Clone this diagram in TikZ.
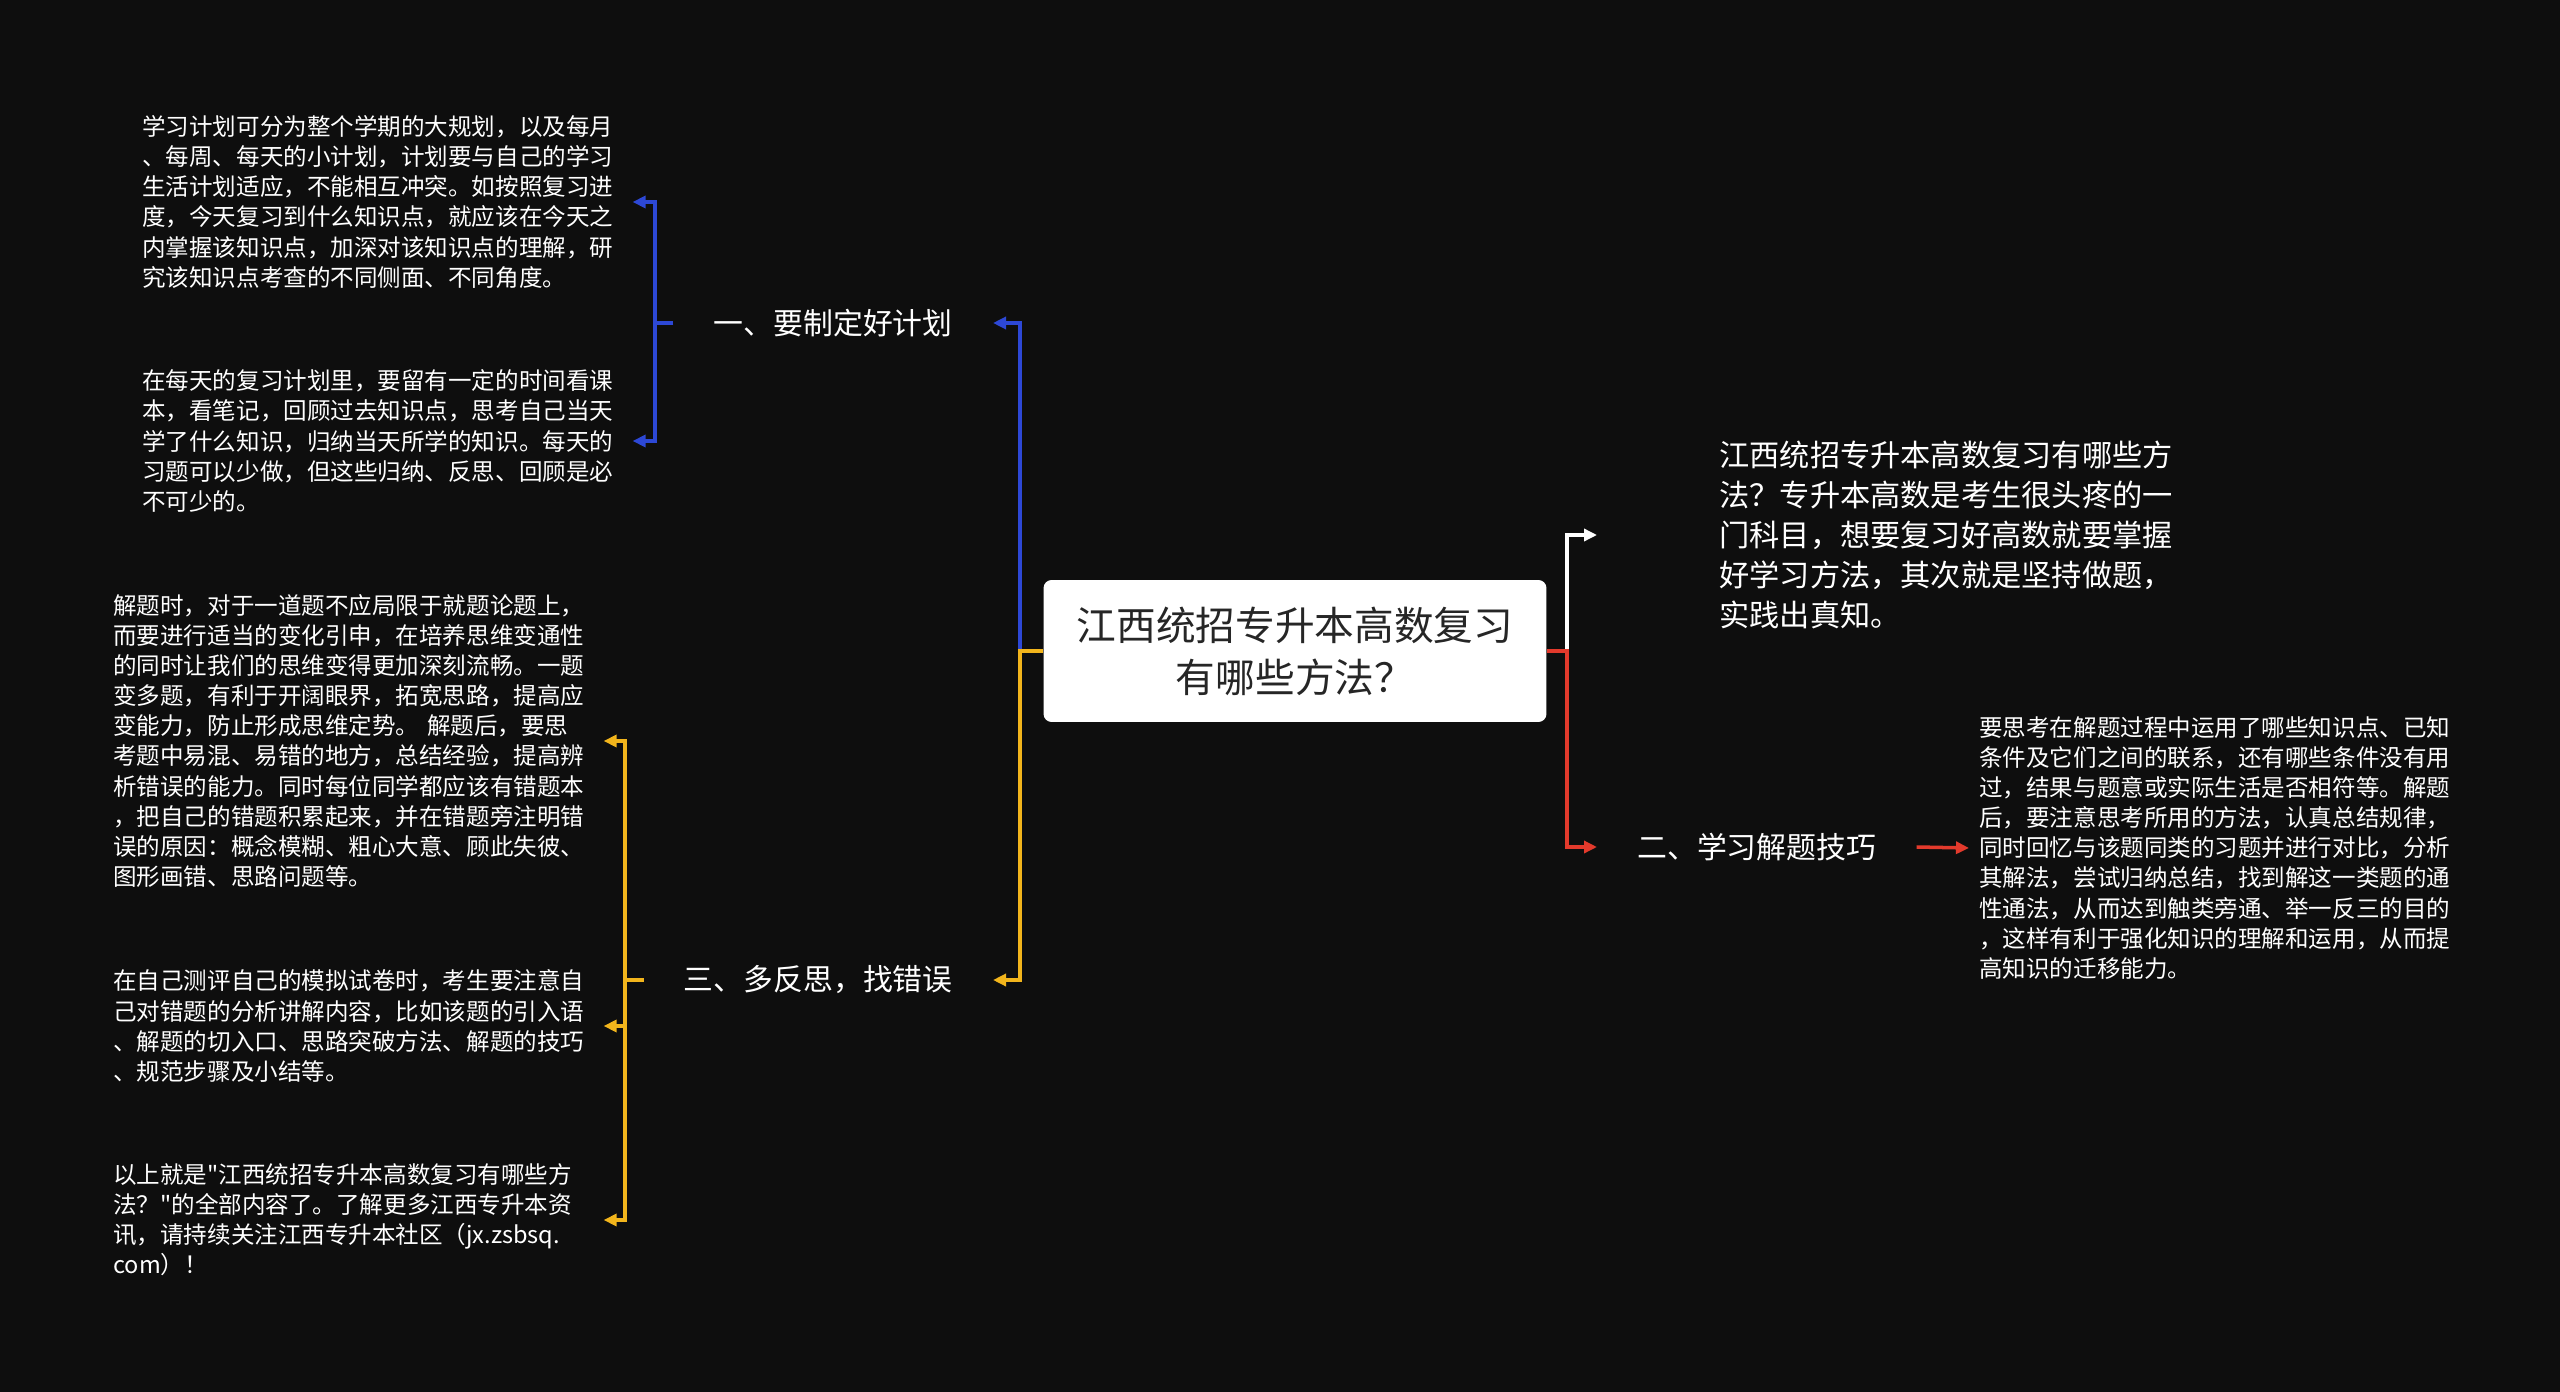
\documentclass[tikz,border=0pt]{standalone}
\usepackage{fontspec}
\newfontfamily\cjk{Noto Sans CJK SC}
\usetikzlibrary{arrows.meta}
\definecolor{bgdark}{HTML}{0E0E0E}
\definecolor{mapblue}{HTML}{2D48D6}
\definecolor{mapyellow}{HTML}{F2B51C}
\definecolor{mapred}{HTML}{E33A2C}

\begin{document}
\begin{tikzpicture}[
    x=0.02cm, y=-0.02cm,
    rootbox/.style={rectangle, fill=white, rounded corners=0.16cm, minimum width=10.06cm, minimum height=2.84cm, align=center, text=black!85, font={\cjk\fontsize{22.6pt}{29.6pt}\selectfont}},
    topic/.style={inner xsep=0.8cm, inner ysep=0pt, text=white, font={\cjk\fontsize{17pt}{20pt}\selectfont}},
    intro/.style={inner sep=0pt, align=left, text=white, font={\cjk\fontsize{17.2pt}{22.8pt}\selectfont}},
    detail/.style={inner xsep=0.2cm, inner ysep=0pt, text width=9.6cm, align=left, text=white, font={\cjk\fontsize{13.4pt}{17.1pt}\selectfont}},
    link/.style={line width=2pt},
    arrow/.style={link, -{Triangle[length=0.26cm, width=0.24cm]}}
]
\fill[bgdark] (0,0) rectangle (2560,1392);

\node[rootbox] (root) at (1295,651) {江西统招专升本高数复习\\有哪些方法？};
\node[topic, anchor=east] (plan) at (993,323) {一、要制定好计划};
\node[topic, anchor=east] (reflect) at (993,980) {三、多反思，找错误};
\node[topic, anchor=west] (skill) at (1597,847) {二、学习解题技巧};

\node[intro, anchor=west] (summary) at (1719,535) {江西统招专升本高数复习有哪些方\\法？专升本高数是考生很头疼的一\\门科目，想要复习好高数就要掌握\\好学习方法，其次就是坚持做题，\\实践出真知。};

\node[detail, anchor=west] (plana) at (132,202) {学习计划可分为整个学期的大规划，以及每月\\、每周、每天的小计划，计划要与自己的学习\\生活计划适应，不能相互冲突。如按照复习进\\度，今天复习到什么知识点，就应该在今天之\\内掌握该知识点，加深对该知识点的理解，研\\究该知识点考查的不同侧面、不同角度。};
\node[detail, anchor=west] (planb) at (132,441) {在每天的复习计划里，要留有一定的时间看课\\本，看笔记，回顾过去知识点，思考自己当天\\学了什么知识，归纳当天所学的知识。每天的\\习题可以少做，但这些归纳、反思、回顾是必\\不可少的。};
\node[detail, anchor=west] (refla) at (103,741) {解题时，对于一道题不应局限于就题论题上，\\而要进行适当的变化引申，在培养思维变通性\\的同时让我们的思维变得更加深刻流畅。一题\\变多题，有利于开阔眼界，拓宽思路，提高应\\变能力，防止形成思维定势。 解题后，要思\\考题中易混、易错的地方，总结经验，提高辨\\析错误的能力。同时每位同学都应该有错题本\\，把自己的错题积累起来，并在错题旁注明错\\误的原因：概念模糊、粗心大意、顾此失彼、\\图形画错、思路问题等。};
\node[detail, anchor=west] (reflb) at (103,1026) {在自己测评自己的模拟试卷时，考生要注意自\\己对错题的分析讲解内容，比如该题的引入语\\、解题的切入口、思路突破方法、解题的技巧\\、规范步骤及小结等。};
\node[detail, anchor=west] (reflc) at (103,1220) {以上就是"江西统招专升本高数复习有哪些方\\法？"的全部内容了。了解更多江西专升本资\\讯，请持续关注江西专升本社区（jx.zsbsq.\\com）！};
\node[detail, anchor=west] (skilla) at (1969,848) {要思考在解题过程中运用了哪些知识点、已知\\条件及它们之间的联系，还有哪些条件没有用\\过，结果与题意或实际生活是否相符等。解题\\后，要注意思考所用的方法，认真总结规律，\\同时回忆与该题同类的习题并进行对比，分析\\其解法，尝试归纳总结，找到解这一类题的通\\性通法，从而达到触类旁通、举一反三的目的\\，这样有利于强化知识的理解和运用，从而提\\高知识的迁移能力。};

\coordinate (lj) at (1020,651);
\coordinate (rj) at (1567,651);
\coordinate (pj) at (655,323);
\coordinate (fj) at (625,980);

\draw[arrow, mapblue] (lj) |- (plan.east);
\draw[arrow, mapyellow] (root.west) -- (lj) |- (reflect.east);
\draw[arrow, white] (rj) |- ([xshift=-2.44cm]summary.west);
\draw[arrow, mapred] (root.east) -- (rj) |- (skill.west);
\draw[arrow, mapred] (skill.east) -- (skilla.west);

\draw[link, mapblue] (plan.west) -- (pj);
\draw[arrow, mapblue] (pj) |- (plana.east);
\draw[arrow, mapblue] (pj) |- (planb.east);

\draw[link, mapyellow] (reflect.west) -- (fj);
\draw[arrow, mapyellow] (fj) |- (refla.east);
\draw[arrow, mapyellow] (fj) |- (reflb.east);
\draw[arrow, mapyellow] (fj) |- (reflc.east);
\end{tikzpicture}
\end{document}
